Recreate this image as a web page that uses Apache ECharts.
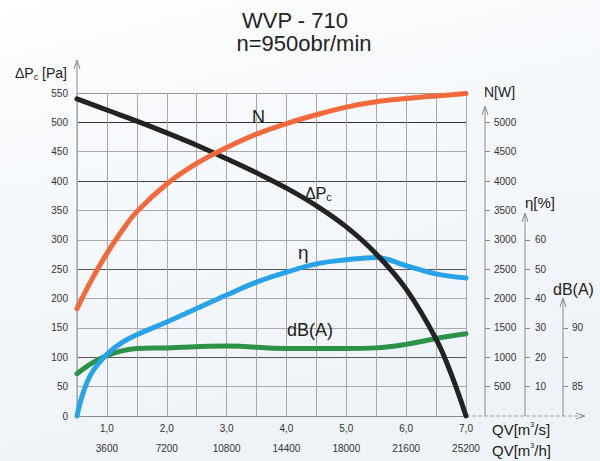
<!DOCTYPE html>
<html><head><meta charset="utf-8">
<script src="https://cdn.jsdelivr.net/npm/echarts@6/dist/echarts.min.js"></script>
<style>html,body{margin:0;padding:0;background:#fff}#c{width:600px;height:461px}</style>
</head><body><div id="c"></div>
<script>
// ---- data ----
const qvTicks = [1, 2, 3, 4, 5, 6, 7];
const qvSecLabels = ['1,0', '2,0', '3,0', '4,0', '5,0', '6,0', '7,0'];
const qvHourLabels = ['3600', '7200', '10800', '14400', '18000', '21600', '25200'];

const qvPressure = [0.5, 1.0, 1.5, 2.0, 2.5, 3.0, 3.5, 4.0, 4.5, 5.0, 5.5, 6.0, 6.5, 6.75, 7.0];
const pressure = [540, 521, 502, 482, 461, 438, 414, 388, 358, 322, 276, 216, 131, 72, 0];

const qvPower = [0.5, 0.75, 1.0, 1.25, 1.5, 2.0, 2.5, 3.0, 3.5, 4.0, 4.5, 5.0, 5.5, 6.0, 6.5, 7.0];
const power = [1827, 2330, 2770, 3150, 3480, 3950, 4300, 4570, 4800, 4980, 5130, 5260, 5350, 5405, 5450, 5490];

const qvEff = [0.5, 0.6, 0.75, 1.0, 1.25, 1.5, 2.0, 2.5, 3.0, 3.5, 4.0, 4.5, 5.0, 5.5, 6.0, 6.5, 7.0];
const efficiency = [0, 7.7, 14.8, 21, 25, 27.7, 32, 36.6, 41.2, 45.6, 49, 51.8, 53.2, 54, 51.2, 48.4, 47];

const qvNoise = [0.5, 0.75, 1.0, 1.25, 1.5, 2.0, 3.0, 4.0, 5.0, 5.5, 6.0, 6.5, 7.0];
const noise = [86.1, 87.0, 87.65, 88.05, 88.25, 88.3, 88.45, 88.25, 88.25, 88.3, 88.6, 89.1, 89.5];

const powerTicks = [500, 1000, 1500, 2000, 2500, 3000, 3500, 4000, 4500, 5000];
const effTicks = [10, 20, 30, 40, 50, 60];
const noiseTicks = [85, 87.5, 90];
const noiseLabels = [85, 90];

// ---- chart ----
const FONT = '"Liberation Sans", Arial, sans-serif';
const chart = echarts.init(document.getElementById('c'), null, {renderer: 'svg'});
const pairs = (xs, ys) => xs.map((x, i) => [x, ys[i]]);
const lblStyle = {fontFamily: FONT, fontSize: 10, color: '#333', formatter: v => String(v)};
const axisGrey = '#8a8a8a';

function arrowUp(x, yTop, yBottom) {
  return [
    {type: 'line', shape: {x1: x, y1: yBottom, x2: x, y2: yTop + 1}, style: {stroke: axisGrey, lineWidth: 1}, silent: true},
    {type: 'polyline', shape: {points: [[x - 3, yTop + 9], [x, yTop], [x + 3, yTop + 9]]}, style: {stroke: axisGrey, lineWidth: 1, fill: null}, silent: true}
  ];
}
function txt(x, y, text, size, align, rich) {
  const st = {x: x, y: y, text: text, font: size + 'px ' + FONT, fontSize: size, fontFamily: FONT, fill: '#222',
    textAlign: align || 'left', align: align || 'left', textVerticalAlign: 'middle', verticalAlign: 'middle'};
  if (rich) st.rich = rich;
  return {type: 'text', style: st, silent: true, z: 10};
}
const sub = (size) => ({fontSize: size, fontFamily: FONT, fill: '#222', color: '#222'});

const graphics = [].concat(
  arrowUp(77, 60, 416),
  arrowUp(485, 106, 416),
  arrowUp(525, 213, 416),
  arrowUp(563, 298, 416),
  [
    {type: 'line', shape: {x1: 466, y1: 416, x2: 584, y2: 416}, style: {stroke: '#a0a0a0', lineWidth: 1, lineDash: [4, 2]}, silent: true},
    {type: 'polyline', shape: {points: [[576, 413], [585, 416], [576, 419]]}, style: {stroke: axisGrey, lineWidth: 1, fill: null}, silent: true},
    txt(295, 20, 'WVP - 710', 22, 'center'),
    txt(304, 43, 'n=950obr/min', 22, 'center'),
    txt(15, 73, '{a|ΔP}{s|c}{a| [Pa]}', 14, 'left', {a: sub(14), s: Object.assign(sub(9), {padding: [8, 0, 0, 0]})}),
    txt(484, 92, 'N[W]', 14, 'left'),
    txt(525, 202, 'η[%]', 15, 'left'),
    txt(553, 289, 'dB(A)', 16, 'left'),
    txt(492, 429, '{a|QV[m}{s|3}{a|/s]}', 15, 'left', {a: sub(15), s: Object.assign(sub(7), {padding: [0, 0, 9, 0]})}),
    txt(492, 450, '{a|QV[m}{s|3}{a|/h]}', 15, 'left', {a: sub(15), s: Object.assign(sub(7), {padding: [0, 0, 9, 0]})}),
    txt(252, 117, 'N', 18, 'left'),
    txt(305, 193, '{a|ΔP}{s|c}', 16, 'left', {a: sub(16), s: Object.assign(sub(11), {padding: [8, 0, 0, 0]})}),
    txt(298, 252, 'η', 19, 'left'),
    txt(287, 330, 'dB(A)', 18, 'left')
  ]
);

const lineCommon = {type: 'line', smooth: 0.4, symbol: 'none', clip: false, animation: false};

chart.setOption({
  animation: false,
  backgroundColor: {type: 'linear', x: 0, y: 0, x2: 0.3, y2: 1,
    colorStops: [{offset: 0, color: '#ffffff'}, {offset: 0.25, color: '#f8fafc'}, {offset: 1, color: '#eef3f8'}]},
  grid: {left: 77, right: 134, top: 93, bottom: 45, containLabel: false},
  xAxis: {
    type: 'value', min: 0.5, max: 7.0, interval: 0.5,
    axisLine: {show: true, lineStyle: {color: axisGrey, width: 1}},
    axisTick: {show: false},
    splitLine: {show: true, lineStyle: {color: '#a9a9a9', width: 1}},
    axisLabel: {
      margin: 2, showMinLabel: true, showMaxLabel: true,
      formatter: function (v) {
        const i = qvTicks.findIndex(t => Math.abs(t - v) < 1e-6);
        if (i < 0) return '';
        return '{a|' + qvSecLabels[i] + '}\n{b|' + qvHourLabels[i] + '}';
      },
      rich: {a: {fontFamily: FONT, fontSize: 10, color: '#333', lineHeight: 20}, b: {fontFamily: FONT, fontSize: 10, color: '#333', lineHeight: 20}}
    }
  },
  yAxis: [
    {
      type: 'value', min: 0, max: 550, interval: 50, position: 'left',
      axisLine: {show: false}, axisTick: {show: false},
      axisLabel: Object.assign({margin: 9}, lblStyle),
      splitLine: {show: true, lineStyle: {width: 1,
        color: ['#8a8a8a', '#a9a9a9', '#555', '#a9a9a9', '#a9a9a9', '#555', '#a9a9a9', '#a9a9a9', '#444', '#a9a9a9', '#333', '#999']}}
    },
    {
      type: 'value', min: 0, max: 5500, interval: 500, position: 'right', offset: 19,
      axisLine: {show: false},
      axisTick: {show: true, length: 5, customValues: powerTicks, lineStyle: {color: axisGrey}},
      axisLabel: Object.assign({margin: 9, customValues: powerTicks}, lblStyle),
      splitLine: {show: false}
    },
    {
      type: 'value', min: 0, max: 110, interval: 10, position: 'right', offset: 59,
      axisLine: {show: false},
      axisTick: {show: true, length: 5, customValues: effTicks, lineStyle: {color: axisGrey}},
      axisLabel: Object.assign({margin: 10, customValues: effTicks}, lblStyle),
      splitLine: {show: false}
    },
    {
      type: 'value', min: 82.5, max: 110, interval: 2.5, position: 'right', offset: 97,
      axisLine: {show: false},
      axisTick: {show: true, length: 5, customValues: noiseTicks, lineStyle: {color: axisGrey}},
      axisLabel: Object.assign({margin: 9, customValues: noiseLabels}, lblStyle),
      splitLine: {show: false}
    }
  ],
  graphic: graphics,
  series: [
    Object.assign({}, lineCommon, {name: 'dB(A)', yAxisIndex: 3, data: pairs(qvNoise, noise), z: 2,
      lineStyle: {color: '#2b9248', width: 5, cap: 'round'}}),
    Object.assign({}, lineCommon, {name: 'η', yAxisIndex: 2, data: pairs(qvEff, efficiency), z: 3,
      lineStyle: {color: '#28a2e8', width: 5, cap: 'round'}}),
    Object.assign({}, lineCommon, {name: 'ΔPc', yAxisIndex: 0, data: pairs(qvPressure, pressure), z: 4,
      lineStyle: {color: '#232323', width: 5, cap: 'round'}}),
    Object.assign({}, lineCommon, {name: 'N', yAxisIndex: 1, data: pairs(qvPower, power), z: 5,
      lineStyle: {color: '#f26a3c', width: 5, cap: 'round'}})
  ]
});
</script>
</body></html>
